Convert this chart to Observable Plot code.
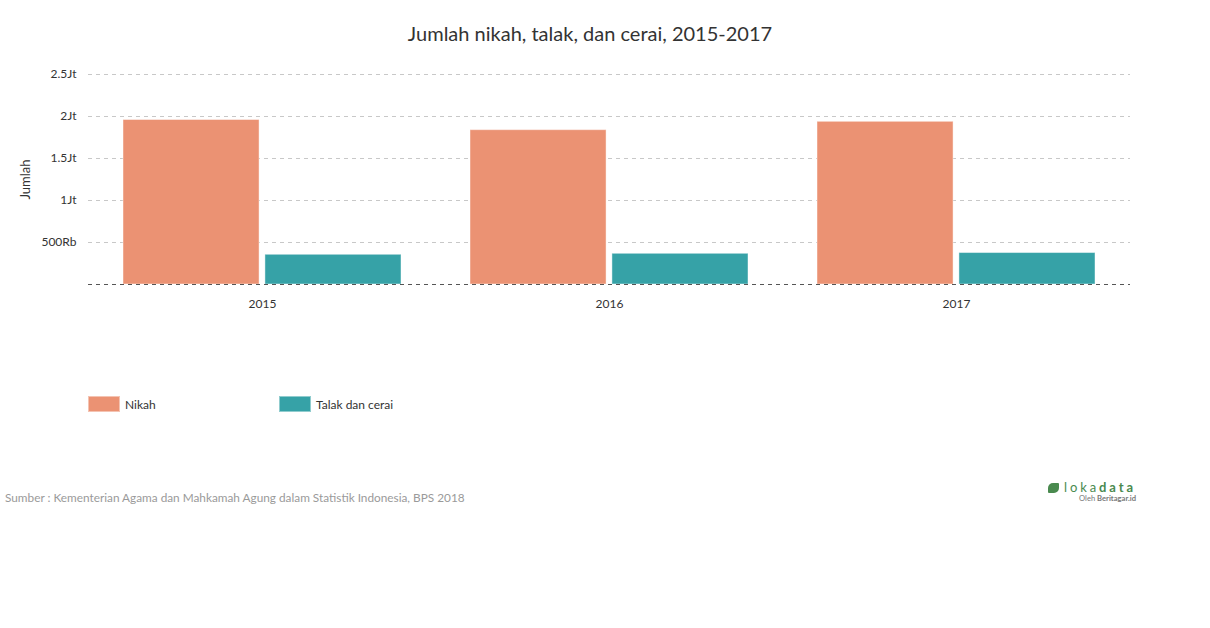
<!DOCTYPE html>
<html>
<head>
<meta charset="utf-8">
<script src="https://cdn.jsdelivr.net/npm/d3@7"></script>
<script src="https://cdn.jsdelivr.net/npm/@observablehq/plot@0.6"></script>
<style>
  body { margin: 0; background: #fff; font-family: Lato, "Open Sans", sans-serif; width: 1210px; height: 628px; position: relative; overflow: hidden; }
  #title { height: 60px; line-height: 66px; text-align: center; font-size: 20px; color: #333; padding-right: 30px; box-sizing: border-box; }
  #legend { margin-top: 76px; margin-left: 88px; display: flex; font-size: 12px; color: #333; height: 16px; }
  .item { display: flex; align-items: center; width: 191px; }
  .sw { width: 32px; height: 16px; margin-right: 5px; box-sizing: border-box; border: 1px solid rgba(255,255,255,0.45); }
  #source { position: absolute; left: 5px; top: 490px; font-size: 11.8px; color: #9a9a9a; }
  #logo { position: absolute; left: 1040px; top: 480px; width: 96px; text-align: right; }
  #logo .brand { font-size: 13px; letter-spacing: 2.9px; color: #4a8a4f; line-height: 14px; }
  #logo .brand b { font-weight: 700; }
  #logo .by { font-size: 7.6px; color: #777; line-height: 9px; }
  #logo .leaf { display: inline-block; width: 11px; height: 10px; background: #4a8a4f; border-radius: 5px 1px 5px 1px; margin-right: 5px; vertical-align: -1px; }
  g[aria-label="y-axis label"] text { font-size: 13px; }
</style>
</head>
<body>
<div id="title">Jumlah nikah, talak, dan cerai, 2015-2017</div>
<div id="chart"></div>
<div id="legend"></div>
<div id="source">Sumber : Kementerian Agama dan Mahkamah Agung dalam Statistik Indonesia, BPS 2018</div>
<div id="logo"><div class="brand"><span class="leaf"></span>loka<b>data</b></div><div class="by">Oleh <b>Beritagar.id</b></div></div>
<script>
const years = ["2015", "2016", "2017"];
const series = ["Nikah", "Talak dan cerai"];
const nikah = [1958394, 1837185, 1936934];
const talakCerai = [353843, 365633, 374516];
const colors = ["#eb9273", "#36a2a7"];
const yTicks = [0, 500000, 1000000, 1500000, 2000000, 2500000];

const nikahData = years.map((y, i) => ({year: y, series: series[0], value: nikah[i]}));
const talakData = years.map((y, i) => ({year: y, series: series[1], value: talakCerai[i]}));

const fmt = d => d === 0 ? "" : d >= 1e6 ? (d / 1e6) + "Jt" : (d / 1e3) + "Rb";

const W = 1210, ML = 88, MR = 80;
const xScale = d3.scaleBand().domain(years).range([ML, W - MR]).paddingInner(0.2).paddingOuter(0.1);
const bw = xScale.bandwidth();
const gap = 6;
const half = (bw - gap) / 2;

const chart = Plot.plot({
  width: W,
  height: 260,
  marginTop: 14,
  marginBottom: 36,
  marginLeft: ML,
  marginRight: MR,
  style: {fontFamily: "Lato, sans-serif", fontSize: "12px", color: "#333"},
  x: {domain: years, paddingInner: 0.2, paddingOuter: 0.1, label: null},
  y: {domain: [0, 2500000], ticks: yTicks, label: null},
  color: {domain: series, range: colors},
  marks: [
    Plot.ruleY(yTicks.filter(d => d > 0), {stroke: "#c8c8c8", strokeDasharray: "4,4", strokeWidth: 1}),
    Plot.axisY({ticks: yTicks, tickFormat: fmt, tickSize: 0, tickPadding: 12, fontSize: 12, label: "Jumlah", labelAnchor: "center", labelArrow: "none", labelOffset: 68}),
    Plot.axisX({tickSize: 0, tickPadding: 15, fontSize: 12, label: null}),
    Plot.barY(nikahData, {x: "year", y: "value", fill: "series", stroke: "white", strokeOpacity: 0.45, strokeWidth: 1, insetRight: bw - half}),
    Plot.barY(talakData, {x: "year", y: "value", fill: "series", stroke: "white", strokeOpacity: 0.45, strokeWidth: 1, insetLeft: bw - half}),
    Plot.ruleY([0], {stroke: "#555", strokeDasharray: "4,4", strokeWidth: 1})
  ]
});
document.getElementById("chart").appendChild(chart);

const legend = document.getElementById("legend");
series.forEach((s, i) => {
  const it = document.createElement("div");
  it.className = "item";
  it.innerHTML = `<span class="sw" style="background:${colors[i]}"></span><span>${s}</span>`;
  legend.appendChild(it);
});
</script>
</body>
</html>
